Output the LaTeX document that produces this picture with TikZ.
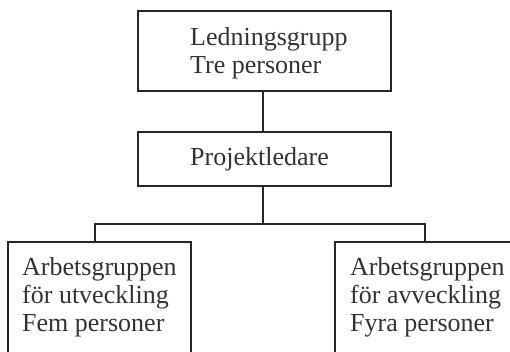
\documentclass[tikz,border=0pt]{standalone}
\usepackage{fontspec}
\setmainfont{Liberation Serif}
\begin{document}
\begin{tikzpicture}[x=1pt,y=-1pt,
  box/.style={draw=black!85, line width=2.2pt, rectangle, inner sep=0pt},
  lbl/.style={anchor=base west, inner sep=0pt, font=\fontsize{26}{28}\selectfont, text=black!80, align=left},
  conn/.style={draw=black!85, line width=2.2pt}]
\useasboundingbox (0,0) rectangle (510,351);
\clip (0,0) rectangle (510,351);
% boxes
\node[box, minimum width=253pt, minimum height=80pt] (top) at (264.5,51) {};
\node[box, minimum width=253pt, minimum height=54pt] (pl) at (264.5,159) {};
\node[box, minimum width=183pt, minimum height=140pt] (left) at (99.5,312) {};
\node[box, minimum width=180pt, minimum height=140pt] (right) at (425,312) {};
% texts
\node[lbl] (tt1) at (190,45) {Ledningsgrupp};
\node[lbl] (tt2) at (190,73) {Tre personer};
\node[lbl] (pt) at (190,165.5) {Projektledare};
\node[lbl] (lt1) at (22,275) {Arbetsgruppen};
\node[lbl] (lt2) at (22,303) {för utveckling};
\node[lbl] (lt3) at (22,331) {Fem personer};
\node[lbl] (rt1) at (350,275) {Arbetsgruppen};
\node[lbl] (rt2) at (350,303) {för avveckling};
\node[lbl] (rt3) at (350,331) {Fyra personer};
% connectors
\draw[conn] ([xshift=-1.5pt]top.south) -- ([xshift=-1.5pt]pl.north);
\draw[conn] ([xshift=-1.5pt]pl.south) -- ++(0,37) coordinate (j);
\draw[conn] ([xshift=-4.5pt]left.north) |- (j) -| (right.north);
\end{tikzpicture}
\end{document}
